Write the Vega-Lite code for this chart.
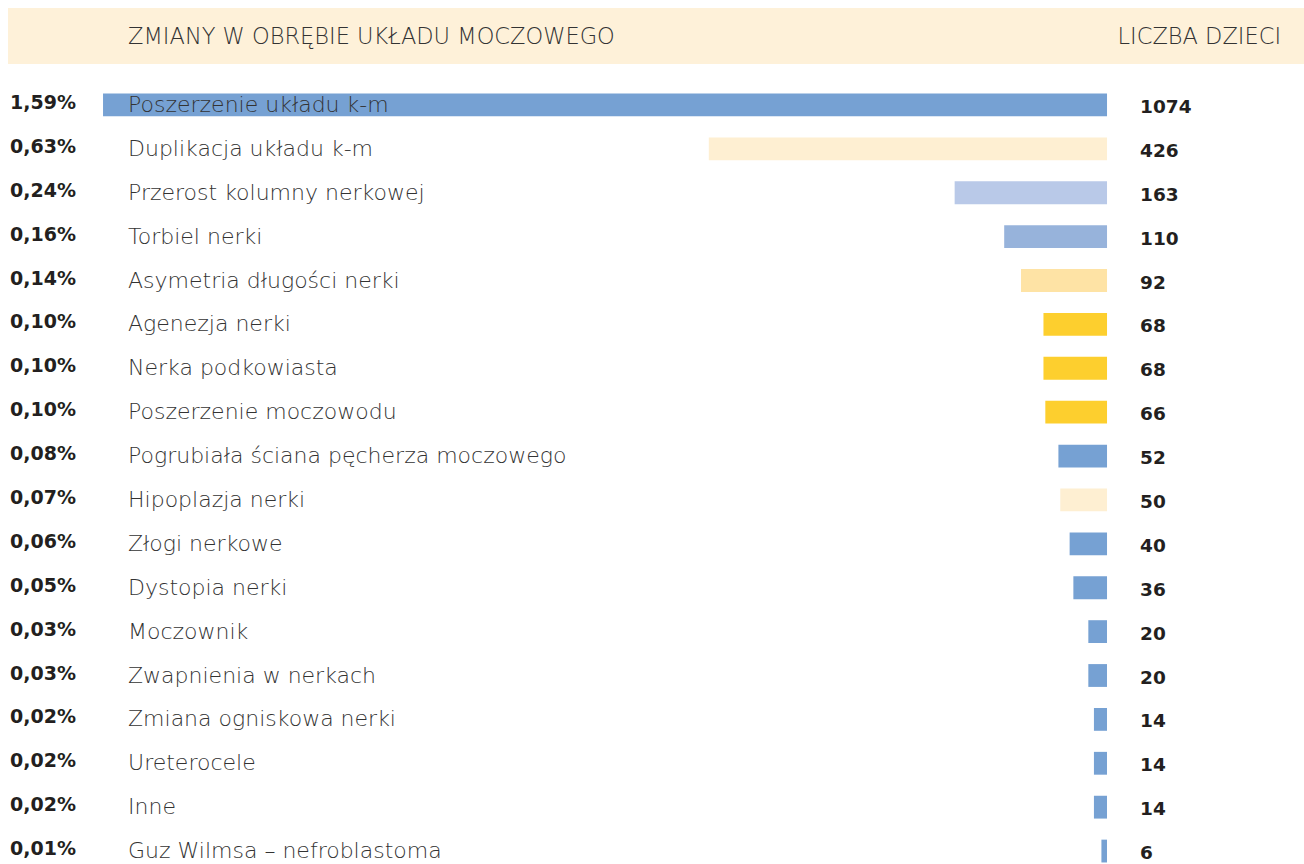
{
  "$schema": "https://vega.github.io/schema/vega-lite/v6.json",
  "padding": {"left": 8, "top": 8, "right": 0, "bottom": 0},
  "background": "#ffffff",
  "config": {"view": {"stroke": null}, "font": "DejaVu Sans"},
  "datasets": {
    "rows": [
      {"name": "Poszerzenie układu k-m", "pct": "1,59%", "count": 1074},
      {"name": "Duplikacja układu k-m", "pct": "0,63%", "count": 426},
      {"name": "Przerost kolumny nerkowej", "pct": "0,24%", "count": 163},
      {"name": "Torbiel nerki", "pct": "0,16%", "count": 110},
      {"name": "Asymetria długości nerki", "pct": "0,14%", "count": 92},
      {"name": "Agenezja nerki", "pct": "0,10%", "count": 68},
      {"name": "Nerka podkowiasta", "pct": "0,10%", "count": 68},
      {"name": "Poszerzenie moczowodu", "pct": "0,10%", "count": 66},
      {"name": "Pogrubiała ściana pęcherza moczowego", "pct": "0,08%", "count": 52},
      {"name": "Hipoplazja nerki", "pct": "0,07%", "count": 50},
      {"name": "Złogi nerkowe", "pct": "0,06%", "count": 40},
      {"name": "Dystopia nerki", "pct": "0,05%", "count": 36},
      {"name": "Moczownik", "pct": "0,03%", "count": 20},
      {"name": "Zwapnienia w nerkach", "pct": "0,03%", "count": 20},
      {"name": "Zmiana ogniskowa nerki", "pct": "0,02%", "count": 14},
      {"name": "Ureterocele", "pct": "0,02%", "count": 14},
      {"name": "Inne", "pct": "0,02%", "count": 14},
      {"name": "Guz Wilmsa – nefroblastoma", "pct": "0,01%", "count": 6}
    ],
    "header": [
      {"left": "ZMIANY W OBRĘBIE UKŁADU MOCZOWEGO", "right": "LICZBA DZIECI"}
    ]
  },
  "spacing": 19,
  "resolve": {"scale": {"x": "independent", "y": "independent", "color": "independent"}},
  "vconcat": [
    {
      "width": 1296,
      "height": 56,
      "view": {"fill": "#FEF1D9", "stroke": null},
      "data": {"name": "header"},
      "layer": [
        {
          "mark": {"type": "text", "align": "left", "baseline": "middle", "dx": 25, "dy": 1, "fontSize": 22.5, "fontWeight": 200, "color": "#333333"},
          "encoding": {
            "x": {"datum": 1074, "type": "quantitative", "scale": {"domain": [-210.71, 1175.65], "reverse": true, "nice": false, "zero": false}, "axis": null},
            "text": {"field": "left"}
          }
        },
        {
          "mark": {"type": "text", "align": "right", "baseline": "middle", "dx": 174, "dy": 1, "fontSize": 22.5, "fontWeight": 200, "color": "#333333"},
          "encoding": {
            "x": {"datum": 0, "type": "quantitative"},
            "text": {"field": "right"}
          }
        }
      ]
    },
    {
      "width": 1296,
      "height": 790,
      "data": {"name": "rows"},
      "encoding": {
        "y": {"field": "name", "type": "nominal", "sort": null, "axis": null, "scale": {"paddingInner": 0.48, "paddingOuter": 0.24}}
      },
      "layer": [
        {
          "mark": {"type": "bar"},
          "encoding": {
            "x": {"field": "count", "type": "quantitative", "scale": {"domain": [-210.71, 1175.65], "reverse": true, "nice": false, "zero": false}, "axis": null},
            "x2": {"datum": 0},
            "color": {
              "field": "name", "type": "nominal", "legend": null,
              "scale": {
                "domain": ["Poszerzenie układu k-m", "Duplikacja układu k-m", "Przerost kolumny nerkowej", "Torbiel nerki", "Asymetria długości nerki", "Agenezja nerki", "Nerka podkowiasta", "Poszerzenie moczowodu", "Pogrubiała ściana pęcherza moczowego", "Hipoplazja nerki", "Złogi nerkowe", "Dystopia nerki", "Moczownik", "Zwapnienia w nerkach", "Zmiana ogniskowa nerki", "Ureterocele", "Inne", "Guz Wilmsa – nefroblastoma"],
                "range": ["#76A1D3", "#FEEFD2", "#B9C9E8", "#97B3DB", "#FEE3A5", "#FDCF2E", "#FDCF2E", "#FDCF2E", "#76A1D3", "#FEEFD2", "#76A1D3", "#76A1D3", "#76A1D3", "#76A1D3", "#76A1D3", "#76A1D3", "#76A1D3", "#76A1D3"]
              }
            }
          }
        },
        {
          "mark": {"type": "text", "align": "left", "baseline": "middle", "dx": 25, "fontSize": 22, "fontWeight": 200, "color": "#333333"},
          "encoding": {
            "x": {"datum": 1074, "type": "quantitative"},
            "text": {"field": "name"}
          }
        },
        {
          "mark": {"type": "text", "align": "left", "baseline": "middle", "dx": -93, "dy": -2, "fontSize": 19, "fontWeight": "bold", "color": "#231f20"},
          "encoding": {
            "x": {"datum": 1074, "type": "quantitative"},
            "text": {"field": "pct"}
          }
        },
        {
          "mark": {"type": "text", "align": "left", "baseline": "middle", "dx": 33, "dy": 2, "fontSize": 18.5, "fontWeight": "bold", "color": "#231f20"},
          "encoding": {
            "x": {"datum": 0, "type": "quantitative"},
            "text": {"field": "count"}
          }
        }
      ]
    }
  ]
}
